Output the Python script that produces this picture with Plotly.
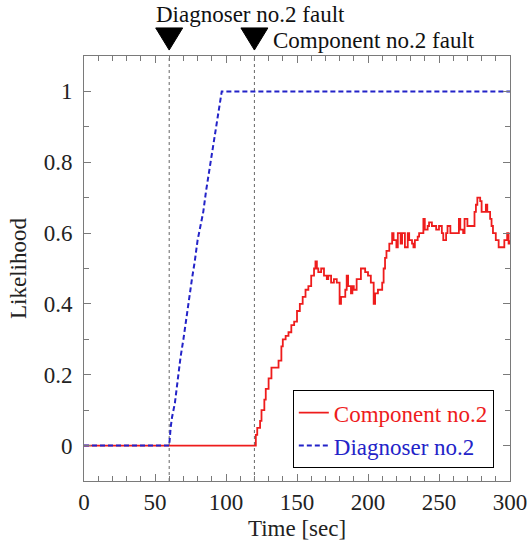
import plotly.graph_objects as go

# ---- data ----
diag_t = [0, 60, 61, 62, 64, 66, 68, 70, 72, 74, 76, 78, 80, 82, 84, 86, 88, 90, 92, 94, 96, 97, 300]
diag_v = [0, 0, 0.05, 0.08, 0.12, 0.19, 0.25, 0.30, 0.36, 0.42, 0.47, 0.52, 0.58, 0.62, 0.66, 0.72, 0.77, 0.83, 0.88, 0.93, 0.98, 1.0, 1.0]

comp_t = [0, 120, 121, 122, 124, 125, 127, 128, 130, 132, 135, 137, 139, 140, 142, 144, 146, 148, 150, 152,
          154, 156, 158, 160, 162, 163, 164, 165, 167, 169, 171, 172, 174, 176, 178, 180, 181, 183, 184, 185,
          186, 188, 189, 190, 192, 194, 195, 198, 200, 202, 204, 205, 207, 210, 211, 212, 213, 215, 217, 218,
          220, 221, 223, 224, 226, 228, 229, 231, 232, 233, 235, 236, 238, 239, 240, 242, 243, 245, 246, 248,
          250, 252, 253, 255, 256, 258, 262, 264, 265, 267, 268, 270, 273, 275, 276, 277, 279, 280, 281, 283,
          284, 286, 287, 288, 290, 292, 294, 296, 298, 299, 300]
comp_v = [0, 0, 0.03, 0.05, 0.07, 0.10, 0.13, 0.16, 0.19, 0.22, 0.22, 0.24, 0.28, 0.30, 0.31, 0.32, 0.34, 0.35, 0.38, 0.40,
          0.42, 0.44, 0.45, 0.48, 0.50, 0.52, 0.50, 0.49, 0.50, 0.48, 0.47, 0.48, 0.46, 0.47, 0.46, 0.40, 0.42, 0.42, 0.44, 0.48,
          0.45, 0.43, 0.45, 0.44, 0.47, 0.47, 0.50, 0.49, 0.48, 0.46, 0.40, 0.43, 0.44, 0.46, 0.50, 0.53, 0.55, 0.57, 0.60, 0.58,
          0.56, 0.60, 0.57, 0.60, 0.56, 0.60, 0.58, 0.57, 0.56, 0.58, 0.59, 0.60, 0.60, 0.64, 0.61, 0.62, 0.63, 0.62, 0.62, 0.61,
          0.62, 0.60, 0.58, 0.60, 0.62, 0.60, 0.60, 0.64, 0.61, 0.60, 0.64, 0.62, 0.62, 0.66, 0.68, 0.70, 0.69, 0.66, 0.66, 0.68,
          0.66, 0.64, 0.62, 0.60, 0.58, 0.56, 0.56, 0.58, 0.60, 0.57, 0.58]

fault_times = [60, 120]
fault_labels = ["Diagnoser no.2 fault", "Component no.2 fault"]

SERIF = "Liberation Serif"
FS = 23
RED = "#ee1c1c"
BLUE = "#2323c8"
GRAY = "#7a7a7a"

fig = go.Figure()
fig.add_trace(go.Scatter(x=comp_t, y=comp_v, mode="lines", line=dict(color=RED, width=1.8, shape="hv"),
                         name=f"<span style='color:{RED}'>Component no.2</span>"))
fig.add_trace(go.Scatter(x=diag_t, y=diag_v, mode="lines", line=dict(color=BLUE, width=2, dash="5px,3px"),
                         name=f"<span style='color:{BLUE}'>Diagnoser no.2</span>"))

TRI_HALF = 9.5          # half width of the marker triangle, in seconds
TRI_TOP, TRI_BOT = 1.066, 1.014   # paper fractions
for t in fault_times:
    fig.add_shape(type="line", xref="x", yref="paper", x0=t, x1=t, y0=0, y1=1,
                  line=dict(color="#666666", width=1, dash="dot"), layer="below")
    fig.add_shape(type="path", xref="x", yref="paper",
                  path=f"M {t - TRI_HALF},{TRI_TOP} L {t + TRI_HALF},{TRI_TOP} L {t},{TRI_BOT} Z",
                  fillcolor="black", line=dict(color="black", width=1))

fig.add_annotation(x=fault_times[0], y=1.0, xref="x", yref="paper", yshift=42, text=fault_labels[0],
                   showarrow=False, xanchor="left", yanchor="middle", xshift=-15,
                   font=dict(family=SERIF, size=23, color="#111"))
fig.add_annotation(x=fault_times[1], y=1.0, xref="x", yref="paper", yshift=16, text=fault_labels[1],
                   showarrow=False, xanchor="left", yanchor="middle", xshift=17,
                   font=dict(family=SERIF, size=23, color="#111"))

axis_common = dict(showline=True, linecolor=GRAY, linewidth=1, mirror="ticks", ticks="inside",
                   tickcolor=GRAY, ticklen=7, showgrid=False, zeroline=False, automargin=False,
                   tickfont=dict(family=SERIF, size=FS, color="#222"))

fig.update_xaxes(range=[0, 300], tick0=0, dtick=50,
                 minor=dict(dtick=10, tick0=0, ticks="inside", ticklen=5, tickcolor=GRAY, showgrid=False),
                 title=dict(text="Time [sec]", font=dict(family=SERIF, size=FS, color="#222"), standoff=6),
                 **axis_common)
fig.update_yaxes(range=[-0.1, 1.1], tick0=0, dtick=0.2,
                 minor=dict(dtick=0.1, tick0=0, ticks="inside", ticklen=5, tickcolor=GRAY, showgrid=False),
                 title=dict(text="Likelihood", font=dict(family=SERIF, size=FS, color="#222"), standoff=10),
                 ticklabelstandoff=6,
                 **axis_common)

fig.update_layout(
    width=528, height=546,
    margin=dict(l=84, r=18, t=56, b=65, autoexpand=False),
    plot_bgcolor="white", paper_bgcolor="white",
    legend=dict(x=0.962, y=0.03, xanchor="right", yanchor="bottom", bgcolor="white",
                bordercolor="black", borderwidth=1, font=dict(family=SERIF, size=FS),
                itemwidth=30, tracegroupgap=0),
    showlegend=True,
)

fig.write_html("out.html")
